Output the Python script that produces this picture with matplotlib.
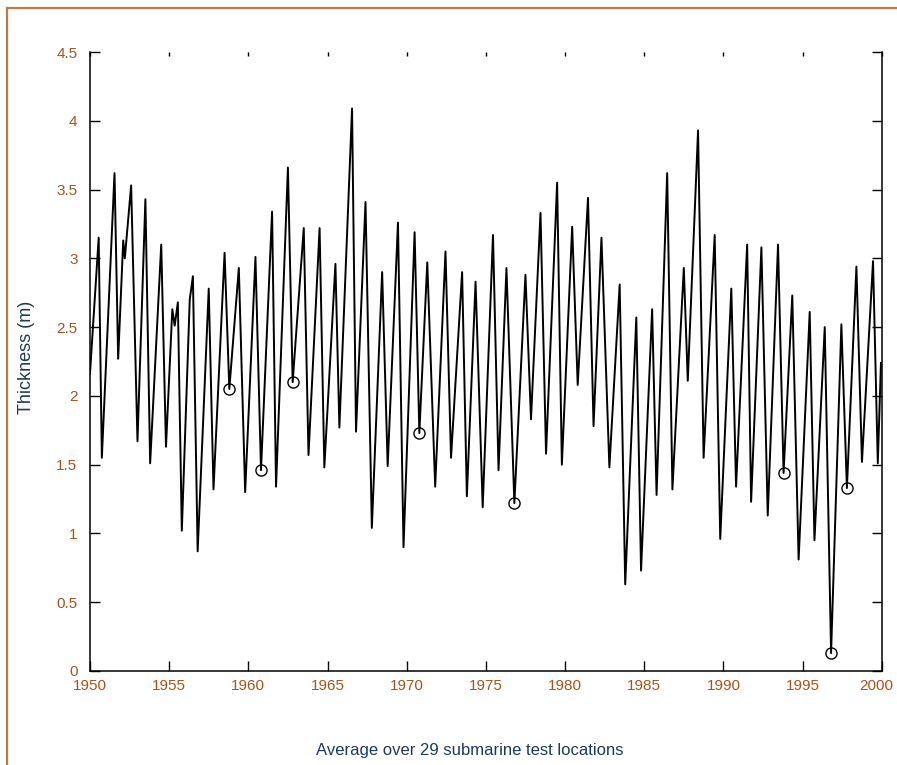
import matplotlib
matplotlib.use("Agg")
import matplotlib.pyplot as plt
import matplotlib.transforms as mtransforms
from matplotlib.lines import Line2D

plt.rcParams["font.family"] = ["Liberation Sans", "DejaVu Sans"]

# turning points of the ice thickness curve (decimal year, metres)
years = [
    1950.0, 1950.55, 1950.75, 1951.55, 1951.78, 1952.1, 1952.2, 1952.6, 1953.0,
    1953.5, 1953.8, 1954.5, 1954.8, 1955.2, 1955.35, 1955.55, 1955.8, 1956.3,
    1956.5, 1956.8, 1957.5, 1957.8, 1958.5, 1958.8, 1959.4, 1959.8, 1960.45,
    1960.8, 1961.5, 1961.75, 1962.5, 1962.8, 1963.5, 1963.8, 1964.5, 1964.8,
    1965.5, 1965.75, 1966.55, 1966.8, 1967.4, 1967.8, 1968.45, 1968.8, 1969.45,
    1969.8, 1970.5, 1970.8, 1971.3, 1971.8, 1972.45, 1972.8, 1973.5, 1973.8,
    1974.35, 1974.8, 1975.45, 1975.8, 1976.3, 1976.8, 1977.5, 1977.85, 1978.45,
    1978.8, 1979.5, 1979.8, 1980.45, 1980.8, 1981.45, 1981.8, 1982.3, 1982.8,
    1983.45, 1983.8, 1984.5, 1984.8, 1985.5, 1985.78, 1986.45, 1986.78, 1987.5,
    1987.75, 1988.4, 1988.75, 1989.45, 1989.8, 1990.5, 1990.8, 1991.5, 1991.75,
    1992.4, 1992.8, 1993.45, 1993.8, 1994.35, 1994.75, 1995.45, 1995.75, 1996.4,
    1996.8, 1997.45, 1997.8, 1998.4, 1998.75, 1999.45, 1999.75, 1999.95,
]
thickness = [
    2.16, 3.15, 1.55, 3.62, 2.27, 3.13, 3.00, 3.53, 1.67,
    3.43, 1.51, 3.10, 1.63, 2.63, 2.51, 2.68, 1.02, 2.70,
    2.87, 0.87, 2.78, 1.32, 3.04, 2.05, 2.93, 1.30, 3.01,
    1.46, 3.34, 1.34, 3.66, 2.10, 3.22, 1.57, 3.22, 1.48,
    2.96, 1.77, 4.09, 1.74, 3.41, 1.04, 2.90, 1.49, 3.26,
    0.90, 3.19, 1.73, 2.97, 1.34, 3.05, 1.55, 2.90, 1.27,
    2.83, 1.19, 3.17, 1.46, 2.93, 1.22, 2.88, 1.83, 3.33,
    1.58, 3.55, 1.50, 3.23, 2.08, 3.44, 1.78, 3.15, 1.48,
    2.81, 0.63, 2.57, 0.73, 2.63, 1.28, 3.62, 1.32, 2.93,
    2.11, 3.93, 1.55, 3.17, 0.96, 2.78, 1.34, 3.10, 1.23,
    3.08, 1.13, 3.10, 1.44, 2.73, 0.81, 2.61, 0.95, 2.50,
    0.13, 2.52, 1.33, 2.94, 1.52, 2.98, 1.51, 2.24,
]

# submarine sampling dates (circles)
sub_years = [1958.8, 1960.8, 1962.8, 1970.8, 1976.8, 1993.8, 1996.8, 1997.8]
sub_thick = [2.05, 1.46, 2.10, 1.73, 1.22, 1.44, 0.13, 1.33]

brown = "#a5541c"
navy = "#1b3a5c"

fig = plt.figure(figsize=(8.97, 7.65), dpi=100)
ax = fig.add_axes([0.1003, 0.1229, 0.8827, 0.8091])

ax.plot(years, thickness, color="black", lw=1.4)
ax.plot(sub_years, sub_thick, "o", mfc="none", mec="black", ms=8, mew=1.0)

ax.set_xlim(1950, 2000)
ax.set_ylim(0, 4.5)
ax.set_xticks(range(1950, 2001, 5))
ax.set_yticks([0, 0.5, 1, 1.5, 2, 2.5, 3, 3.5, 4, 4.5])
ax.set_yticklabels(["0", "0.5", "1", "1.5", "2", "2.5", "3", "3.5", "4", "4.5"])

ax.spines["top"].set_visible(False)
for s in ["left", "bottom", "right"]:
    ax.spines[s].set_linewidth(1.1)

ax.tick_params(axis="both", direction="in", length=7, width=1.0,
               labelsize=11, labelcolor=brown, color="black")
ax.tick_params(axis="y", right=True, pad=9)
ax.tick_params(axis="x", top=True, pad=6)
for t in ax.xaxis.get_major_ticks():
    t.tick2line.set_markersize(3)

# keep the last year label inside the figure
last = ax.get_xticklabels()[-1]
last.set_transform(last.get_transform()
                   + mtransforms.ScaledTranslation(-6 / 100, 0, fig.dpi_scale_trans))

ax.set_ylabel("Thickness (m)", fontsize=13, color=navy)
ax.yaxis.set_label_coords(-0.069, 0.507)
ax.set_xlabel("Average over 29 submarine test locations", fontsize=12,
              color=navy)
ax.xaxis.set_label_coords(0.48, -0.116)

# orange frame around the figure
fig.add_artist(Line2D([0.0075, 0.0075], [0, 0.9895], transform=fig.transFigure,
                      color="#c07a40", lw=1.6))
fig.add_artist(Line2D([0.0075, 1.0], [0.9895, 0.9895], transform=fig.transFigure,
                      color="#c07a40", lw=1.6))

fig.savefig("out.png", dpi=100)
